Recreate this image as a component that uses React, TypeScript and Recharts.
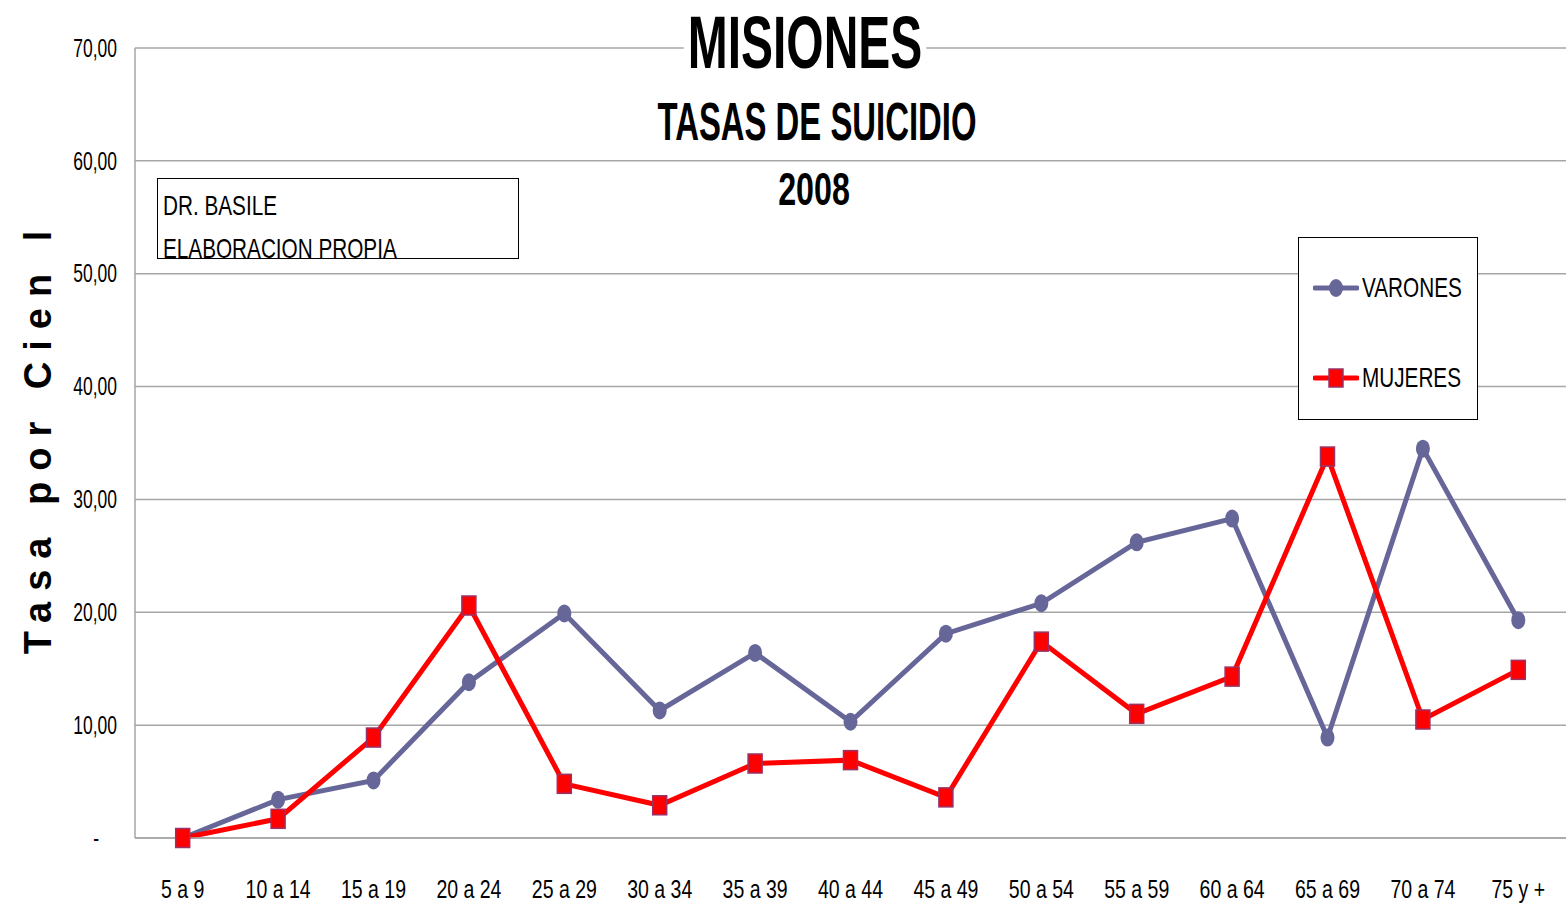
import React from 'react';
import {
  LineChart,
  Line,
  XAxis,
  YAxis,
  CartesianGrid,
  Legend,
} from 'recharts';

const ageGroups = [
  '5 a 9', '10 a 14', '15 a 19', '20 a 24', '25 a 29', '30 a 34', '35 a 39',
  '40 a 44', '45 a 49', '50 a 54', '55 a 59', '60 a 64', '65 a 69', '70 a 74', '75 y +',
];
const varones = [0, 3.4, 5.1, 13.8, 19.9, 11.3, 16.4, 10.3, 18.1, 20.8, 26.2, 28.3, 8.9, 34.5, 19.3];
const mujeres = [0, 1.7, 8.9, 20.6, 4.8, 2.9, 6.6, 6.9, 3.6, 17.4, 11.0, 14.3, 33.8, 10.5, 14.9];
const yTicks = [0, 10, 20, 30, 40, 50, 60, 70];

const data = ageGroups.map((g, i) => ({ grupo: g, varones: varones[i], mujeres: mujeres[i] }));

const font = "'Liberation Sans', Arial, sans-serif";

const colors = {
  varones: '#666699',
  mujeres: '#ff0000',
  mujeresEdge: '#993366',
  grid: '#a6a6a6',
};

const fmt = (v: number) => (v === 0 ? '-' : v.toFixed(2).replace('.', ','));

function YTick(props: any) {
  const { x, y, payload } = props;
  const v = payload.value as number;
  return (
    <g transform={`translate(${v === 0 ? x - 18 : x},${y})`}>
      <text transform="scale(0.7,1)" dy="0.35em" textAnchor="end" fontFamily={font} fontSize={25} fill="#000">
        {fmt(v)}
      </text>
    </g>
  );
}

function XTick(props: any) {
  const { x, y, payload } = props;
  return (
    <g transform={`translate(${x},${y + 43})`}>
      <text transform="scale(0.78,1)" dy="0.35em" textAnchor="middle" fontFamily={font} fontSize={25} fill="#000">
        {payload.value}
      </text>
    </g>
  );
}

const VaronDot = (p: any) => (
  <ellipse key={`v-${p.index}`} cx={p.cx} cy={p.cy} rx={7} ry={9} fill={colors.varones} />
);

const MujerDot = (p: any) => (
  <rect
    key={`m-${p.index}`}
    x={p.cx - 7}
    y={p.cy - 9.5}
    width={14}
    height={19}
    fill={colors.mujeres}
    stroke={colors.mujeresEdge}
    strokeWidth={1.5}
  />
);

const legendOrder = ['varones', 'mujeres'];

function LegendBox(props: any) {
  const items = [...(props.payload || [])].sort(
    (a: any, b: any) => legendOrder.indexOf(a.dataKey) - legendOrder.indexOf(b.dataKey)
  );
  return (
    <div
      style={{
        width: 178,
        height: 181,
        border: '1px solid #000',
        background: '#fff',
        position: 'relative',
      }}
    >
      {items.map((it: any, i: number) => (
        <div
          key={it.value}
          style={{
            position: 'absolute',
            left: 14,
            top: 36 + i * 90,
            display: 'flex',
            alignItems: 'center',
            color: '#000',
          }}
        >
          <svg width={46} height={22}>
            <line x1={2} y1={11} x2={44} y2={11} stroke={it.color} strokeWidth={5} strokeLinecap="round" />
            {it.dataKey === 'varones' ? (
              <ellipse cx={23} cy={11} rx={7} ry={9} fill={it.color} />
            ) : (
              <rect x={16} y={2} width={14} height={18} fill={it.color} stroke={colors.mujeresEdge} strokeWidth={1.5} />
            )}
          </svg>
          <span
            style={{
              marginLeft: 3,
              fontFamily: font,
              fontSize: 28,
              lineHeight: '28px',
              display: 'inline-block',
              transform: 'scaleX(0.74)',
              transformOrigin: 'left center',
              whiteSpace: 'nowrap',
            }}
          >
            {it.value}
          </span>
        </div>
      ))}
    </div>
  );
}

const titleStyle = (left: number, top: number, size: number, sx: number): React.CSSProperties => ({
  position: 'absolute',
  left,
  top,
  transform: `translateX(-50%) scaleX(${sx})`,
  fontFamily: font,
  fontWeight: 'bold',
  fontSize: size,
  lineHeight: `${size}px`,
  whiteSpace: 'nowrap',
  color: '#000',
});

const boxText: React.CSSProperties = {
  position: 'absolute',
  left: 5,
  whiteSpace: 'nowrap',
  fontFamily: font,
  fontSize: 28,
  lineHeight: '28px',
  transform: 'scaleX(0.74)',
  transformOrigin: 'left center',
};

export default function App() {
  return (
    <div style={{ position: 'absolute', left: 0, top: 0, width: 1566, height: 908, background: '#fff' }}>
      <LineChart
        width={1566}
        height={908}
        data={data}
        margin={{ top: 48, right: 0, left: 0, bottom: 0 }}
      >
        <CartesianGrid vertical={false} stroke={colors.grid} strokeWidth={1.5} />
        <XAxis
          dataKey="grupo"
          height={70}
          padding={{ left: 47.7, right: 47.7 }}
          axisLine={{ stroke: colors.grid, strokeWidth: 1.5 }}
          tickLine={false}
          tick={<XTick />}
          interval={0}
        />
        <YAxis
          width={135}
          domain={[0, 70]}
          ticks={yTicks}
          axisLine={{ stroke: colors.grid, strokeWidth: 1.5 }}
          tickLine={false}
          tickSize={0}
          tickMargin={18}
          tick={<YTick />}
        />
        <Legend
          layout="vertical"
          align="center"
          verticalAlign="middle"
          wrapperStyle={{ left: 1298, top: 237, width: 180, height: 183 }}
          content={<LegendBox />}
        />
        <Line
          type="linear"
          dataKey="varones"
          name="VARONES"
          stroke={colors.varones}
          strokeWidth={5}
          dot={VaronDot}
          activeDot={false}
          isAnimationActive={false}
        />
        <Line
          type="linear"
          dataKey="mujeres"
          name="MUJERES"
          stroke={colors.mujeres}
          strokeWidth={5}
          dot={MujerDot}
          activeDot={false}
          isAnimationActive={false}
        />
      </LineChart>

      <div style={{ ...titleStyle(805, 5, 75, 0.64), background: '#fff', padding: '0 6px' }}>MISIONES</div>
      <div style={titleStyle(817, 95, 53, 0.62)}>TASAS DE SUICIDIO</div>
      <div style={titleStyle(814, 166, 46, 0.7)}>2008</div>

      <div
        style={{
          position: 'absolute',
          left: 157,
          top: 178,
          width: 360,
          height: 79,
          border: '1px solid #000',
          background: '#fff',
          color: '#000',
        }}
      >
        <div style={{ ...boxText, top: 13 }}>DR. BASILE</div>
        <div style={{ ...boxText, top: 56 }}>ELABORACION PROPIA</div>
      </div>

      <div
        style={{
          position: 'absolute',
          left: 38,
          top: 437,
          transform: 'translate(-50%, -50%) rotate(-90deg)',
          fontFamily: font,
          fontWeight: 'bold',
          fontSize: 38,
          letterSpacing: 11,
          whiteSpace: 'nowrap',
          color: '#000',
        }}
      >
        Tasa por Cien l
      </div>
    </div>
  );
}
